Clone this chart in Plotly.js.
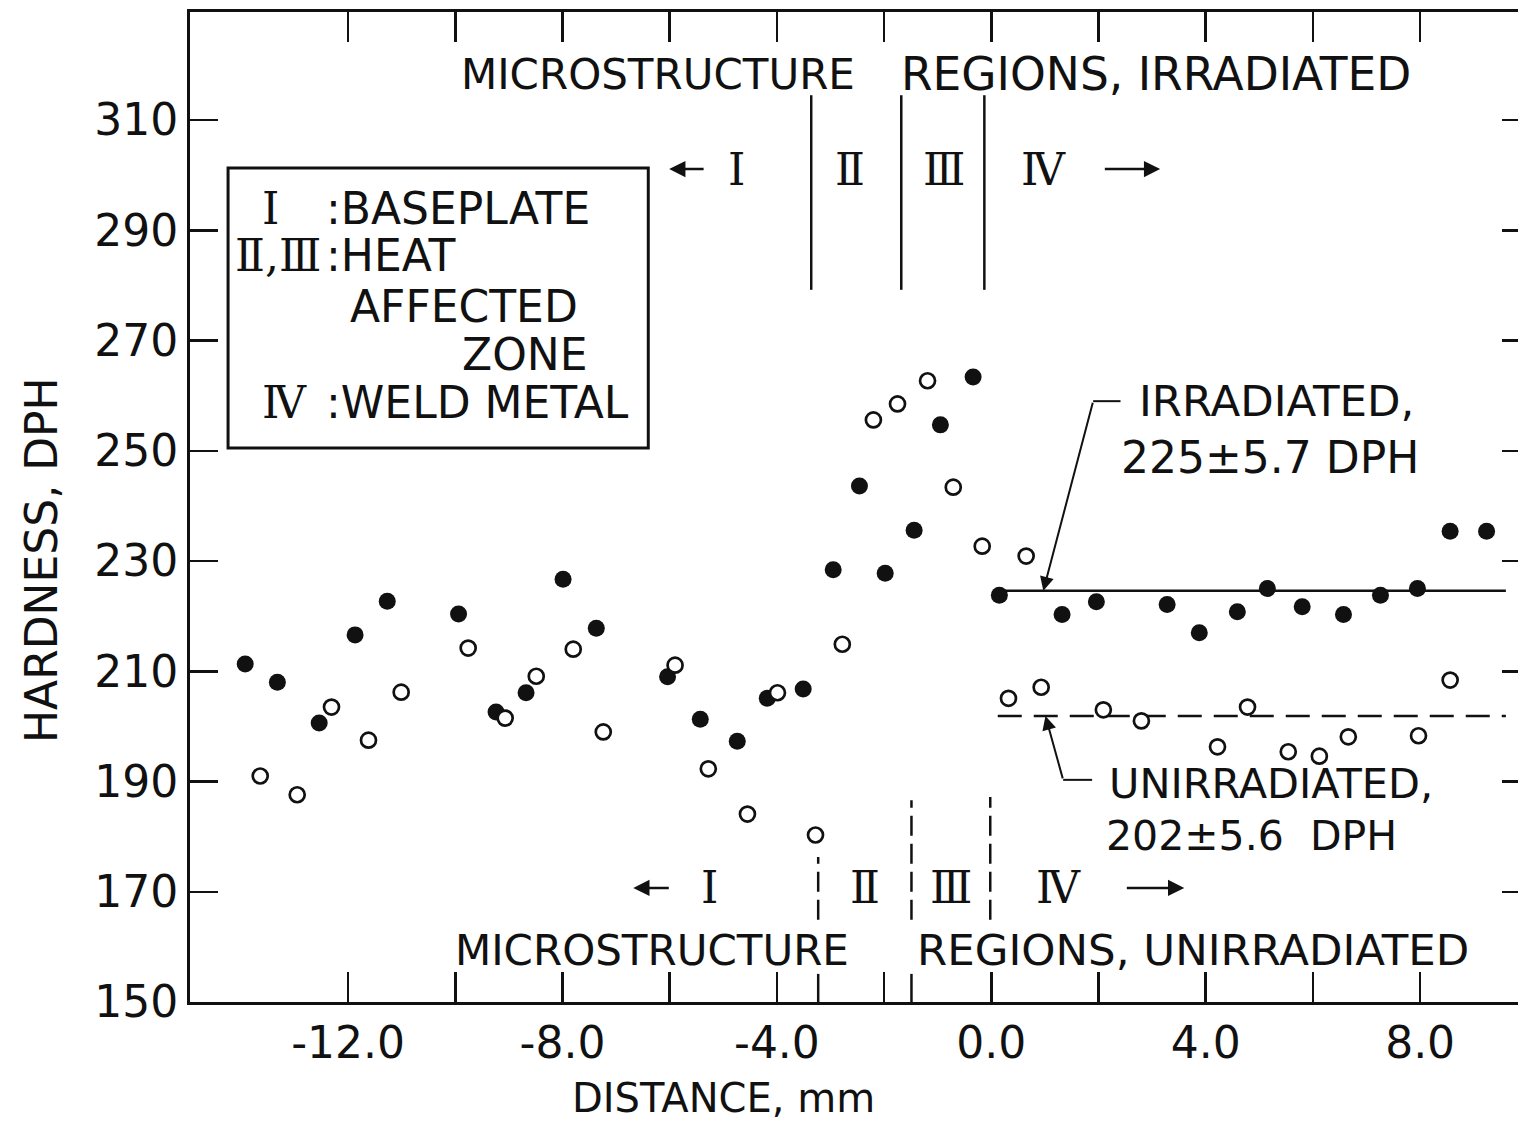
<!DOCTYPE html>
<html>
<head>
<meta charset="utf-8">
<script src="https://cdn.plot.ly/plotly-3.0.1.min.js"></script>
<style>
html,body{margin:0;padding:0;background:#fff;overflow:hidden;}
#chart{width:1545px;height:1125px;}
</style>
</head>
<body>
<div id="chart"></div>
<script>
// ---- data ----
const irrX = [-13.92,-13.32,-12.54,-11.87,-11.27,-9.94,-9.24,-8.68,-7.99,-7.37,-6.04,-5.43,-4.74,-4.18,-3.51,-2.95,-2.46,-1.98,-1.44,-0.95,-0.34,0.15,1.32,1.96,3.28,3.88,4.59,5.15,5.80,6.57,7.26,7.95,8.56,9.24];
const irrY = [211.3,208.0,200.6,216.6,222.7,220.4,202.6,206.1,226.7,217.8,209.0,201.3,197.3,205.1,206.8,228.4,243.6,227.8,235.6,254.7,263.4,223.8,220.3,222.6,222.1,217.0,220.8,225.0,221.7,220.3,223.8,225.0,235.4,235.4];
const unirrX = [-13.64,-12.95,-12.31,-11.62,-11.01,-9.76,-9.07,-8.49,-7.80,-7.24,-5.90,-5.28,-4.55,-3.99,-3.28,-2.78,-2.20,-1.75,-1.19,-0.71,-0.17,0.32,0.65,0.93,2.09,2.80,4.22,4.78,5.54,6.12,6.66,7.97,8.56];
const unirrY = [191.0,187.6,203.5,197.5,206.2,214.2,201.5,209.1,214.0,199.0,211.1,192.3,184.1,206.1,180.3,214.9,255.6,258.5,262.7,243.4,232.7,205.1,230.9,207.1,203.0,201.0,196.3,203.5,195.4,194.6,198.1,198.3,208.4];
const meanX = [0.12, 9.6];
const irrMean = 224.6;
const unirrMean = 201.9;
const irrBoundX = [-3.36, -1.68, -0.13];
const unirrBoundX = [-3.23, -1.49, -0.02];
const xTickVals = [-12,-10,-8,-6,-4,-2,0,2,4,6,8];
const xTickText = ['-12.0','','-8.0','','-4.0','','0.0','','4.0','','8.0'];
const yTickVals = [150,170,190,210,230,250,270,290,310];
const yTickText = ['150','170','190','210','230','250','270','290','310'];

const INK = '#111';
const SANS = 'DejaVu Sans, sans-serif';
const SERIF = 'DejaVu Serif, serif';

const traces = [
  {x: meanX, y: [irrMean, irrMean], mode: 'lines', line: {color: INK, width: 2.5}, hoverinfo: 'skip'},
  {x: meanX, y: [unirrMean, unirrMean], mode: 'lines', line: {color: INK, width: 2.5, dash: '24px,12px'}, hoverinfo: 'skip'},
  {x: irrX, y: irrY, mode: 'markers', name: 'Irradiated',
   marker: {symbol: 'circle', size: 17, color: INK, line: {width: 0}}},
  {x: unirrX, y: unirrY, mode: 'markers', name: 'Unirradiated',
   marker: {symbol: 'circle', size: 15, color: '#fff', line: {width: 2.7, color: INK}}}
];

const shapes = [];
irrBoundX.forEach(x => shapes.push({type: 'line', xref: 'x', yref: 'y', x0: x, x1: x, y0: 279.2, y1: 314.5, line: {color: INK, width: 2.5}}));
const unirrTop = [176.3, 186.6, 187.2];
unirrBoundX.forEach((x, i) => shapes.push({type: 'line', xref: 'x', yref: 'y', x0: x, x1: x, y0: 164.9, y1: unirrTop[i], line: {color: INK, width: 2.5, dash: '20px,8px'}}));
unirrBoundX.slice(0, 2).forEach(x => shapes.push({type: 'line', xref: 'x', yref: 'y', x0: x, x1: x, y0: 150, y1: 155.1, line: {color: INK, width: 2.5}}));
// legend box
shapes.push({type: 'rect', xref: 'x', yref: 'y', x0: -14.24, x1: -6.40, y0: 250.5, y1: 301.3, line: {color: INK, width: 3}});
// leader line horizontals
shapes.push({type: 'line', xref: 'x', yref: 'y', x0: 1.90, x1: 2.41, y0: 259.0, y1: 259.0, line: {color: INK, width: 2}});
shapes.push({type: 'line', xref: 'x', yref: 'y', x0: 1.34, x1: 1.88, y0: 190.3, y1: 190.3, line: {color: INK, width: 2}});

function txt(text, x, y, size, xanchor, family, extra) {
  return Object.assign({text: text, x: x, y: y, xref: 'x', yref: 'y', showarrow: false,
    xanchor: xanchor || 'left', yanchor: 'middle',
    font: {family: family || SANS, size: size, color: INK}}, extra || {});
}
function arrow(xTip, yTip, xTail, yTail, w, size) {
  return {text: '', x: xTip, y: yTip, ax: xTail, ay: yTail, axref: 'x', ayref: 'y', xref: 'x', yref: 'y',
    showarrow: true, arrowhead: 2, arrowsize: size || 1.3, arrowwidth: w || 2.5, arrowcolor: INK, standoff: 0, startstandoff: 0};
}

const annotations = [
  // headers
  txt('MICROSTRUCTURE', -9.93, 318.3, 42),
  txt('REGIONS, IRRADIATED', -1.72, 318.3, 45.5),
  txt('MICROSTRUCTURE', -10.04, 159.4, 42),
  txt('REGIONS, UNIRRADIATED', -1.42, 159.4, 43.5),
  // top region labels
  txt('Ⅰ', -4.76, 301.1, 44, 'center', SERIF),
  txt('Ⅱ', -2.63, 301.1, 44, 'center', SERIF),
  txt('Ⅲ', -0.88, 301.1, 44, 'center', SERIF),
  txt('Ⅳ', 0.97, 301.1, 44, 'center', SERIF),
  arrow(-6.01, 301.1, -5.34, 301.1),
  arrow(3.15, 301.1, 2.09, 301.1),
  // bottom region labels
  txt('Ⅰ', -5.26, 170.7, 44, 'center', SERIF),
  txt('Ⅱ', -2.35, 170.7, 44, 'center', SERIF),
  txt('Ⅲ', -0.75, 170.7, 44, 'center', SERIF),
  txt('Ⅳ', 1.25, 170.7, 44, 'center', SERIF),
  arrow(-6.68, 170.7, -5.99, 170.7),
  arrow(3.60, 170.7, 2.50, 170.7),
  // legend box text
  txt('Ⅰ', -13.45, 294.0, 44, 'center', SERIF),
  txt(':BASEPLATE', -12.45, 294.0, 44),
  txt('Ⅱ,Ⅲ', -12.46, 285.5, 44, 'right', SERIF),
  txt(':HEAT', -12.45, 285.5, 44),
  txt('AFFECTED', -12.01, 276.1, 44),
  txt('ZONE', -9.91, 267.4, 44),
  txt('Ⅳ', -13.19, 258.8, 44, 'center', SERIF),
  txt(':WELD METAL', -12.45, 258.8, 44),
  // mean annotations
  txt('IRRADIATED,', 2.72, 259.0, 43.5),
  txt('225±5.7 DPH', 2.39, 248.7, 44),
  arrow(0.97, irrMean, 1.90, 259.0, 2, 1.4),
  txt('UNIRRADIATED,', 2.16, 189.7, 41.5),
  txt('202±5.6  DPH', 2.11, 180.1, 41),
  arrow(1.01, unirrMean, 1.34, 190.3, 2, 1.4),
  // axis titles
  {text: 'DISTANCE, mm', x: -5.0, y: -0.097, xref: 'x', yref: 'paper', showarrow: false,
   xanchor: 'center', yanchor: 'middle', font: {family: SANS, size: 40, color: INK}},
  {text: 'HARDNESS, DPH', x: -0.1104, y: 0.4465, xref: 'paper', yref: 'paper', showarrow: false, textangle: -90,
   xanchor: 'center', yanchor: 'middle', font: {family: SANS, size: 44, color: INK}}
];

const layout = {
  width: 1545, height: 1125,
  margin: {l: 190, r: 15, t: 12, b: 123},
  paper_bgcolor: '#fff', plot_bgcolor: '#fff',
  showlegend: false,
  font: {family: SANS, color: INK},
  xaxis: {range: [-14.95, 10.05], showgrid: false, zeroline: false,
    showline: true, linewidth: 3, linecolor: INK, mirror: 'ticks',
    ticks: 'inside', ticklen: 30, tickwidth: 2.5, tickcolor: INK,
    tickmode: 'array', tickvals: xTickVals, ticktext: xTickText,
    tickfont: {family: SANS, size: 44, color: INK}, ticklabelstandoff: 0},
  yaxis: {range: [150, 329.6], showgrid: false, zeroline: false,
    showline: true, linewidth: 3, linecolor: INK, mirror: 'ticks',
    ticks: 'inside', ticklen: 28, tickwidth: 2.5, tickcolor: INK,
    tickmode: 'array', tickvals: yTickVals, ticktext: yTickText,
    tickfont: {family: SANS, size: 44, color: INK}, ticklabelstandoff: 0},
  shapes: shapes,
  annotations: annotations
};

Plotly.newPlot('chart', traces, layout, {displayModeBar: false, staticPlot: true});
</script>
</body>
</html>
